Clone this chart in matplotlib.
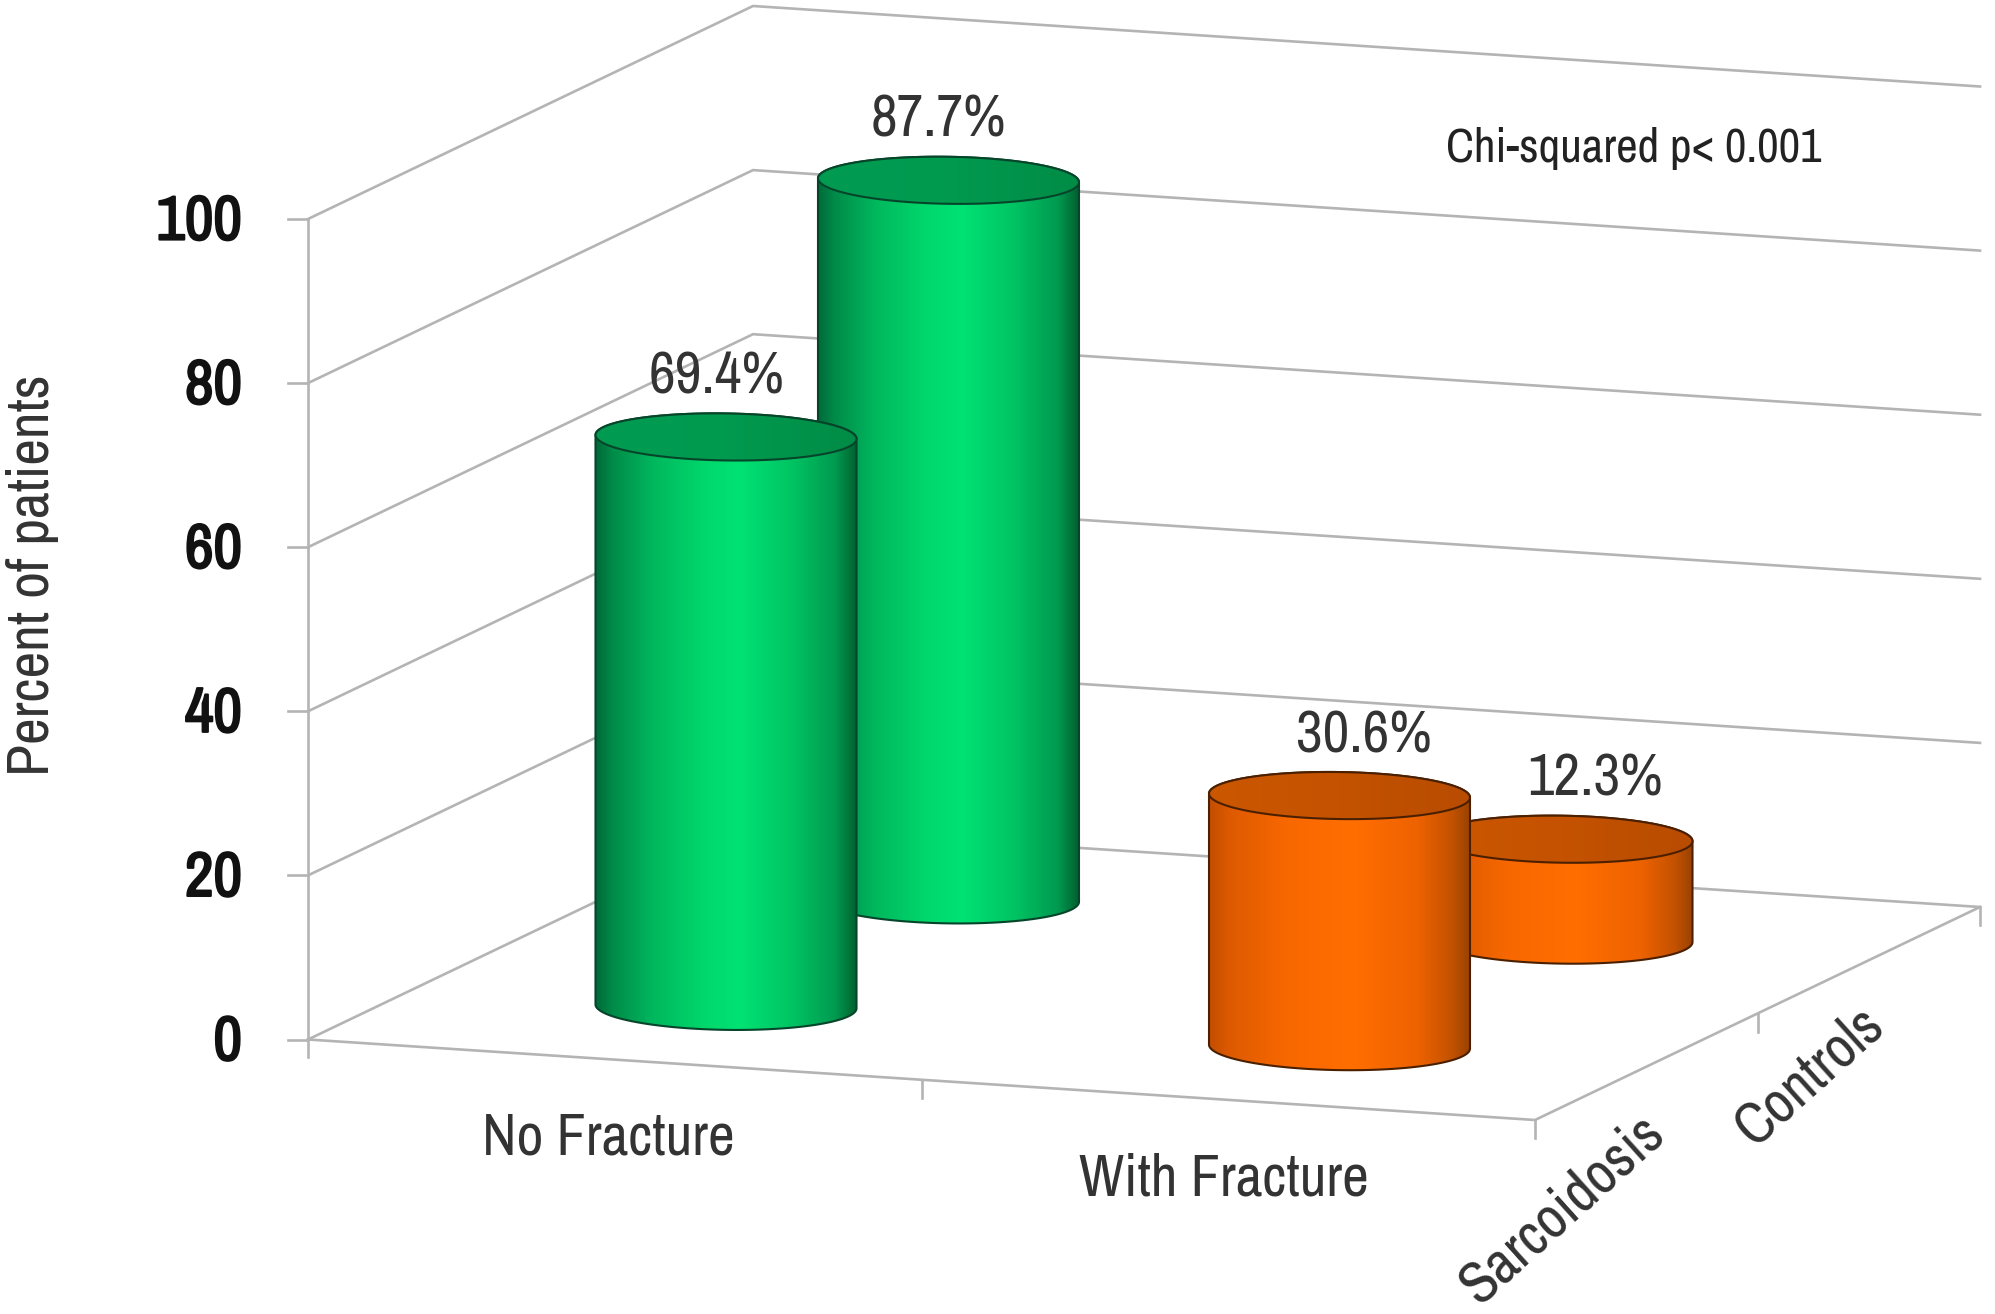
import numpy as np
import matplotlib
matplotlib.use("Agg")
import matplotlib.pyplot as plt
import matplotlib.patheffects as pe
from matplotlib.colors import LinearSegmentedColormap
from matplotlib.patches import PathPatch
from matplotlib.path import Path

# chart data
categories = ["No Fracture", "With Fracture"]
groups = ["Sarcoidosis", "Controls"]
sarcoidosis = [69.4, 30.6]
controls = [87.7, 12.3]
y_ticks = [0, 20, 40, 60, 80, 100]
bar_labels = [["69.4%", "30.6%"], ["87.7%", "12.3%"]]

# oblique projection of the 3d chart box, in image pixels
origin = np.array([308.0, 1039.5])
cat_step = np.array([613.5, 40.25])
depth_step = np.array([222.5, -106.5])
px_per_unit = 8.205

radius_x = 130.5
radius_y = 23.5
tilt = 0.015

grid_col = "#b4b4b4"
grid_lw = 1.9
label_font = ["Archivo Narrow", "Liberation Sans"]


def project(cat, depth, value=0):
    p = origin + cat * cat_step + depth * depth_step
    return p[0], p[1] - value * px_per_unit


def ellipse_pts(cx, cy, start, stop, n=80):
    t = np.linspace(start, stop, n)
    x = cx + radius_x * np.cos(t)
    y = cy + radius_y * np.sin(t) + tilt * radius_x * np.cos(t)
    return x, y


def clipped_gradient(ax, xs, ys, cmap, zorder, edge):
    verts = np.column_stack([xs, ys])
    verts = np.vstack([verts, verts[0]])
    codes = [Path.MOVETO] + [Path.LINETO] * (len(verts) - 2) + [Path.CLOSEPOLY]
    path = PathPatch(Path(verts, codes), facecolor="none", edgecolor=edge, lw=1.5, zorder=zorder + 0.1)
    ax.add_patch(path)
    grad = np.linspace(0, 1, 256).reshape(1, -1)
    im = ax.imshow(grad, cmap=cmap, extent=[xs.min(), xs.max(), ys.max(), ys.min()],
                   aspect="auto", zorder=zorder, interpolation="bilinear")
    im.set_clip_path(path)


def cylinder(ax, cat, depth, value, side_cmap, top_cmap, edge, zorder):
    bx, by = project(cat, depth)
    tx, ty = project(cat, depth, value)
    # body: top ellipse back rim is covered by the cap drawn afterwards
    x1, y1 = ellipse_pts(bx, by, 0, np.pi)
    x2, y2 = ellipse_pts(tx, ty, np.pi, 2 * np.pi)
    clipped_gradient(ax, np.r_[x1, x2], np.r_[y1, y2], side_cmap, zorder, edge)
    x3, y3 = ellipse_pts(tx, ty, 0, 2 * np.pi, 160)
    clipped_gradient(ax, x3, y3, top_cmap, zorder + 0.2, edge)


green_side = LinearSegmentedColormap.from_list("gs", [
    (0.0, "#006b38"), (0.06, "#008a48"), (0.22, "#00b85e"), (0.42, "#00d86c"),
    (0.55, "#00e274"), (0.75, "#00c463"), (0.92, "#009a50"), (1.0, "#00602f")])
green_top = LinearSegmentedColormap.from_list("gt", ["#009c52", "#009a4f", "#008c46"])
orange_side = LinearSegmentedColormap.from_list("os", [
    (0.0, "#c24e00"), (0.08, "#de5a00"), (0.3, "#f86800"), (0.55, "#ff6e00"),
    (0.8, "#ee6200"), (0.93, "#c45200"), (1.0, "#9a4200")])
orange_top = LinearSegmentedColormap.from_list("ot", ["#cc5700", "#c45200", "#b84c00"])

fig = plt.figure(figsize=(19.95, 13.14), dpi=100)
ax = fig.add_axes([0, 0, 1, 1])
ax.set_axis_off()

# walls and floor
for v in y_ticks:
    xs, ys = zip(project(0, 0, v), project(0, 2, v), project(2, 2, v))
    ax.plot(xs, ys, color=grid_col, lw=grid_lw, zorder=1)
xs, ys = zip(project(0, 0), project(2, 0), project(2, 2))
ax.plot(xs, ys, color=grid_col, lw=grid_lw, zorder=1)
xs, ys = zip(project(0, 0, 100), project(0, 0))
ax.plot(xs, (ys[0], ys[1] + 17), color=grid_col, lw=grid_lw, zorder=1)

# ticks
for v in y_ticks:
    x, y = project(0, 0, v)
    ax.plot([x - 20, x], [y, y], color=grid_col, lw=grid_lw, zorder=1)
    t = ax.text(x - 66, y + 3, str(v), ha="right", va="center", fontsize=45,
                family=label_font, color="#111111")
    t.set_path_effects([pe.withStroke(linewidth=1.6, foreground="#111111")])
for c in [1, 2]:
    x, y = project(c, 0)
    ax.plot([x, x], [y, y + 18], color=grid_col, lw=grid_lw, zorder=1)
for d in [1, 2]:
    x, y = project(2, d)
    ax.plot([x, x], [y, y + 18], color=grid_col, lw=grid_lw, zorder=1)

# back row first so the front row overlaps it
for depth, vals in [(1.5, controls), (0.5, sarcoidosis)]:
    for i, v in enumerate(vals):
        z = 3 if depth > 1 else 5
        if i == 0:
            cylinder(ax, i + 0.5, depth, v, green_side, green_top, "#06452a", z)
        else:
            cylinder(ax, i + 0.5, depth, v, orange_side, orange_top, "#4a2000", z)

# value labels above each cylinder
label_nudge = [[-9, 24], [-10, 33]]
for row, (depth, vals) in enumerate([(0.5, sarcoidosis), (1.5, controls)]):
    for i, v in enumerate(vals):
        x, y = project(i + 0.5, depth, v)
        ax.text(x + label_nudge[row][i], y - 60, bar_labels[row][i], ha="center", va="center",
                fontsize=42, family=label_font, color="#333333", zorder=8)

# category labels
ax.text(608, 1138, categories[0], ha="center", va="center", fontsize=42, family=label_font, color="#333333")
ax.text(1224, 1179, categories[1], ha="center", va="center", fontsize=42, family=label_font, color="#333333")
ax.text(1562, 1209, groups[0], ha="center", va="center", rotation=42, fontsize=42, family=label_font,
        color="#333333", rotation_mode="anchor")
ax.text(1809, 1076, groups[1], ha="center", va="center", rotation=42, fontsize=42, family=label_font,
        color="#333333", rotation_mode="anchor")

ax.text(33, 575, "Percent of patients", ha="center", va="center", rotation=90, fontsize=42,
        family=label_font, color="#333333")
ax.text(1634, 148, "Chi-squared p< 0.001", ha="center", va="center", fontsize=34,
        family=label_font, color="#222222")

ax.set_xlim(0, 1995)
ax.set_ylim(1314, 0)
fig.savefig("out.png", dpi=100, facecolor="white")
